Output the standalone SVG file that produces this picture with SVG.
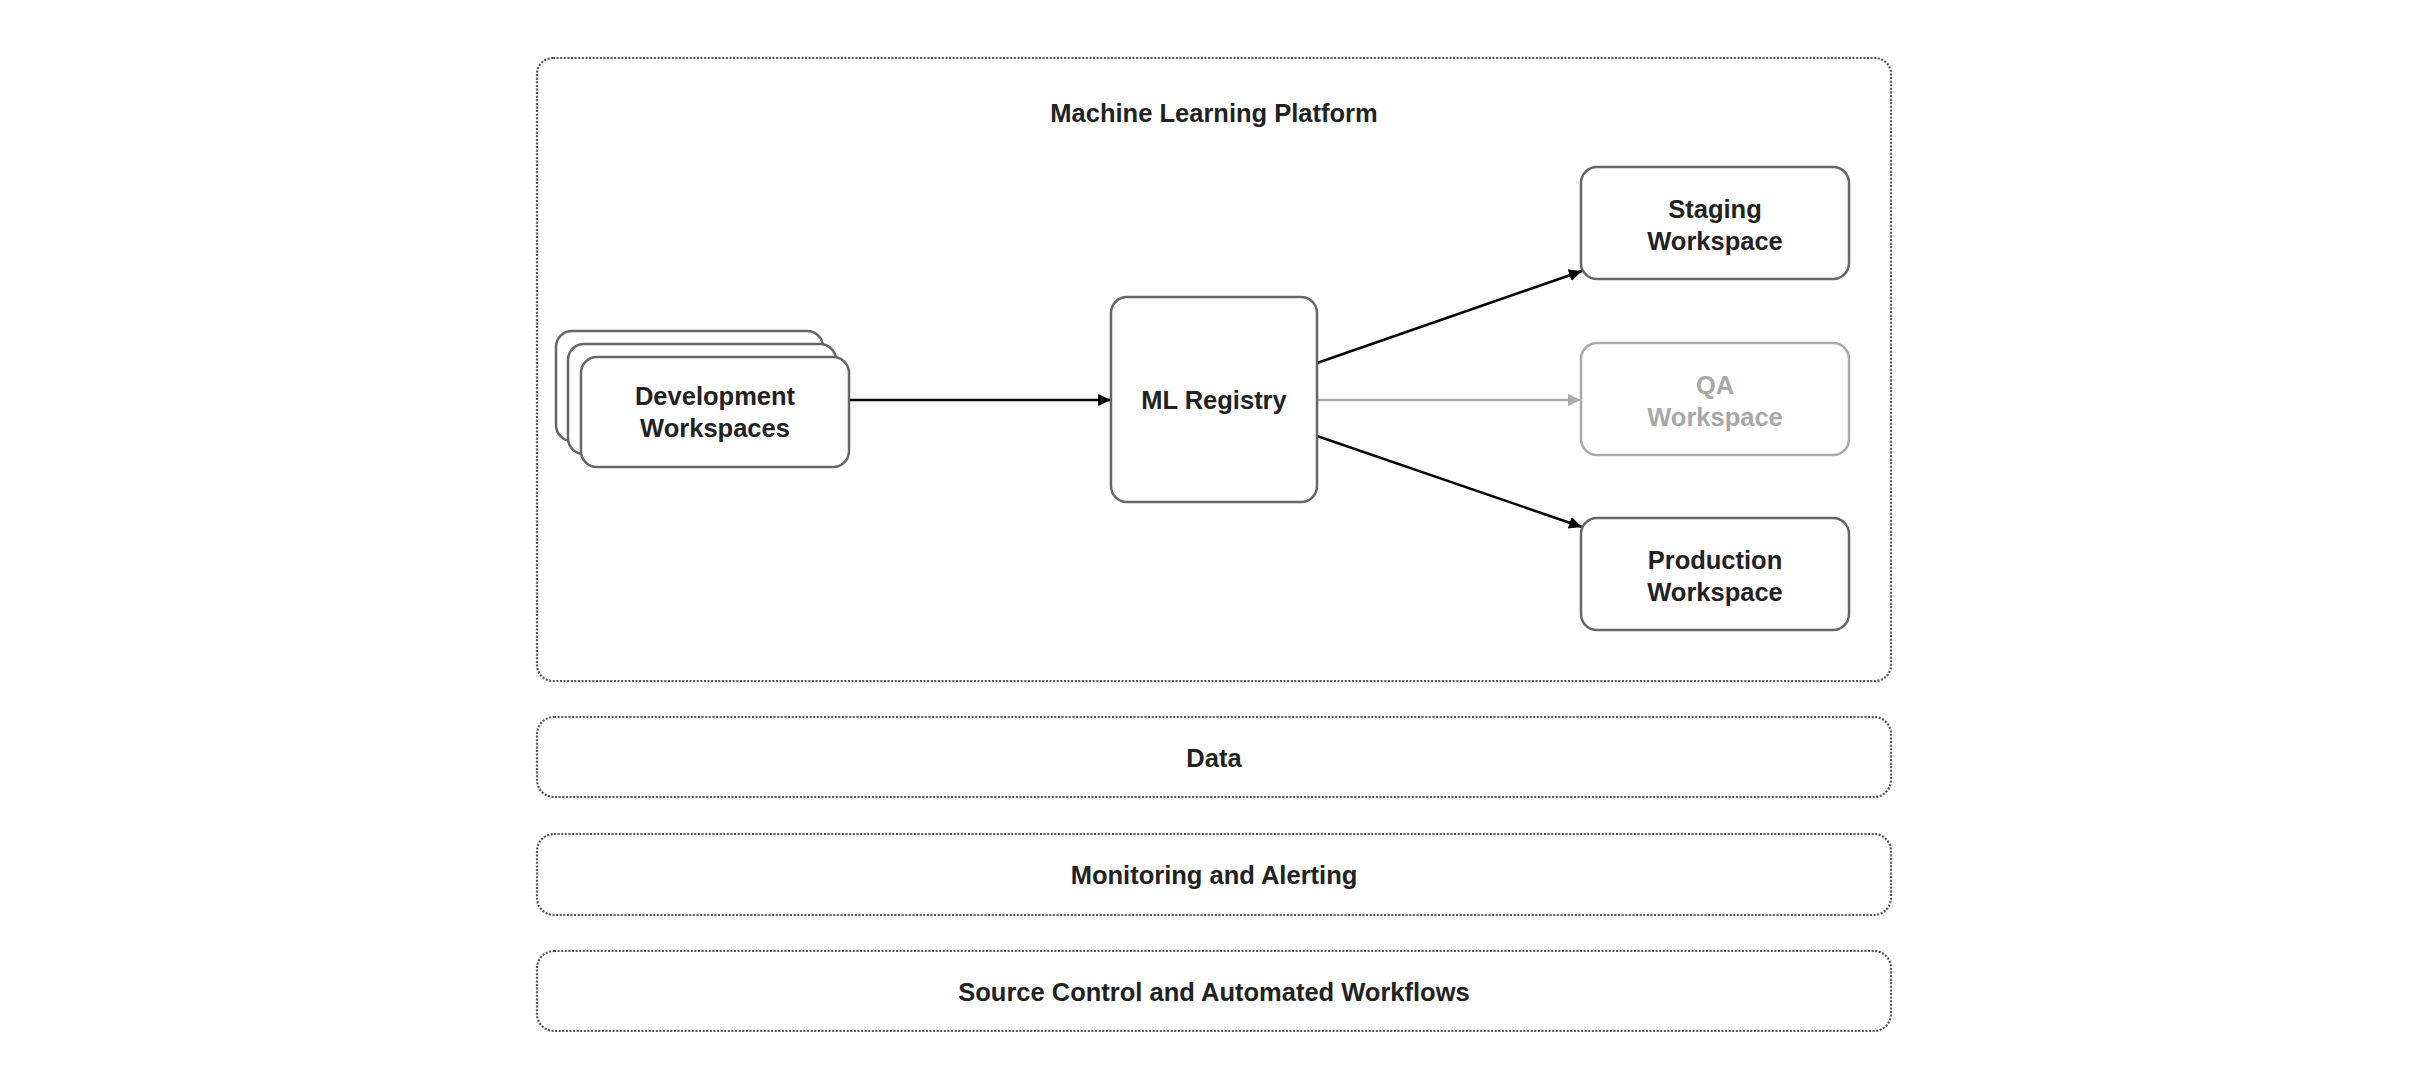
<svg xmlns="http://www.w3.org/2000/svg" width="2428" height="1084" viewBox="0 0 2428 1084">
<style>
  .lane { fill: none; stroke: #555555; stroke-width: 2.2; stroke-dasharray: 2 1.6; }
  .box { fill: #ffffff; stroke: #666666; stroke-width: 2.5; }
  .box-muted { fill: #ffffff; stroke: #aaaaaa; stroke-width: 2.5; }
  .label { font-family: "Liberation Sans", Arial, Helvetica, sans-serif; font-weight: bold; font-size: 25.5px; fill: #222222; text-anchor: middle; }
  .label-muted { fill: #a8a8a8; }
  .edge { fill: none; stroke: #000000; stroke-width: 2.5; }
  .edge-muted { fill: none; stroke: #aaaaaa; stroke-width: 2.5; }
</style>
<defs>
  <marker id="arrow" markerUnits="userSpaceOnUse" markerWidth="14" markerHeight="12" refX="13" refY="6" orient="auto">
    <path d="M0,0 L13,6 L0,12 z" fill="#000000"/>
  </marker>
  <marker id="arrow-muted" markerUnits="userSpaceOnUse" markerWidth="14" markerHeight="12" refX="13" refY="6" orient="auto">
    <path d="M0,0 L13,6 L0,12 z" fill="#aaaaaa"/>
  </marker>
</defs>
<rect width="2428" height="1084" fill="#ffffff"/>

<g id="ml-platform">
  <rect class="lane" x="537" y="58" width="1354" height="623" rx="16"/>
  <text class="label" x="1214" y="122">Machine Learning Platform</text>
</g>

<g id="data">
  <rect class="lane" x="537" y="717" width="1354" height="80" rx="17"/>
  <text class="label" x="1214" y="767">Data</text>
</g>

<g id="monitoring">
  <rect class="lane" x="537" y="834" width="1354" height="81" rx="17"/>
  <text class="label" x="1214" y="884">Monitoring and Alerting</text>
</g>

<g id="source-control">
  <rect class="lane" x="537" y="951" width="1354" height="80" rx="17"/>
  <text class="label" x="1214" y="1001">Source Control and Automated Workflows</text>
</g>

<g id="connectors">
  <line class="edge" x1="849" y1="400" x2="1111" y2="400" marker-end="url(#arrow)"/>
  <line class="edge" x1="1317" y1="363" x2="1582" y2="271" marker-end="url(#arrow)"/>
  <line class="edge-muted" x1="1317" y1="400" x2="1581" y2="400" marker-end="url(#arrow-muted)"/>
  <line class="edge" x1="1317" y1="436" x2="1582" y2="527" marker-end="url(#arrow)"/>
</g>

<g id="development-workspaces">
  <rect class="box" x="556" y="331" width="267" height="110" rx="16"/>
  <rect class="box" x="568" y="344" width="268" height="110" rx="16"/>
  <rect class="box" x="581" y="357" width="268" height="110" rx="16"/>
  <text class="label" x="715" y="405">Development</text>
  <text class="label" x="715" y="437">Workspaces</text>
</g>

<g id="ml-registry">
  <rect class="box" x="1111" y="297" width="206" height="205" rx="16"/>
  <text class="label" x="1214" y="409">ML Registry</text>
</g>

<g id="staging-workspace">
  <rect class="box" x="1581" y="167" width="268" height="112" rx="16"/>
  <text class="label" x="1715" y="218">Staging</text>
  <text class="label" x="1715" y="250">Workspace</text>
</g>

<g id="qa-workspace">
  <rect class="box-muted" x="1581" y="343" width="268" height="112" rx="16"/>
  <text class="label label-muted" x="1715" y="394">QA</text>
  <text class="label label-muted" x="1715" y="426">Workspace</text>
</g>

<g id="production-workspace">
  <rect class="box" x="1581" y="518" width="268" height="112" rx="16"/>
  <text class="label" x="1715" y="569">Production</text>
  <text class="label" x="1715" y="601">Workspace</text>
</g>
</svg>
